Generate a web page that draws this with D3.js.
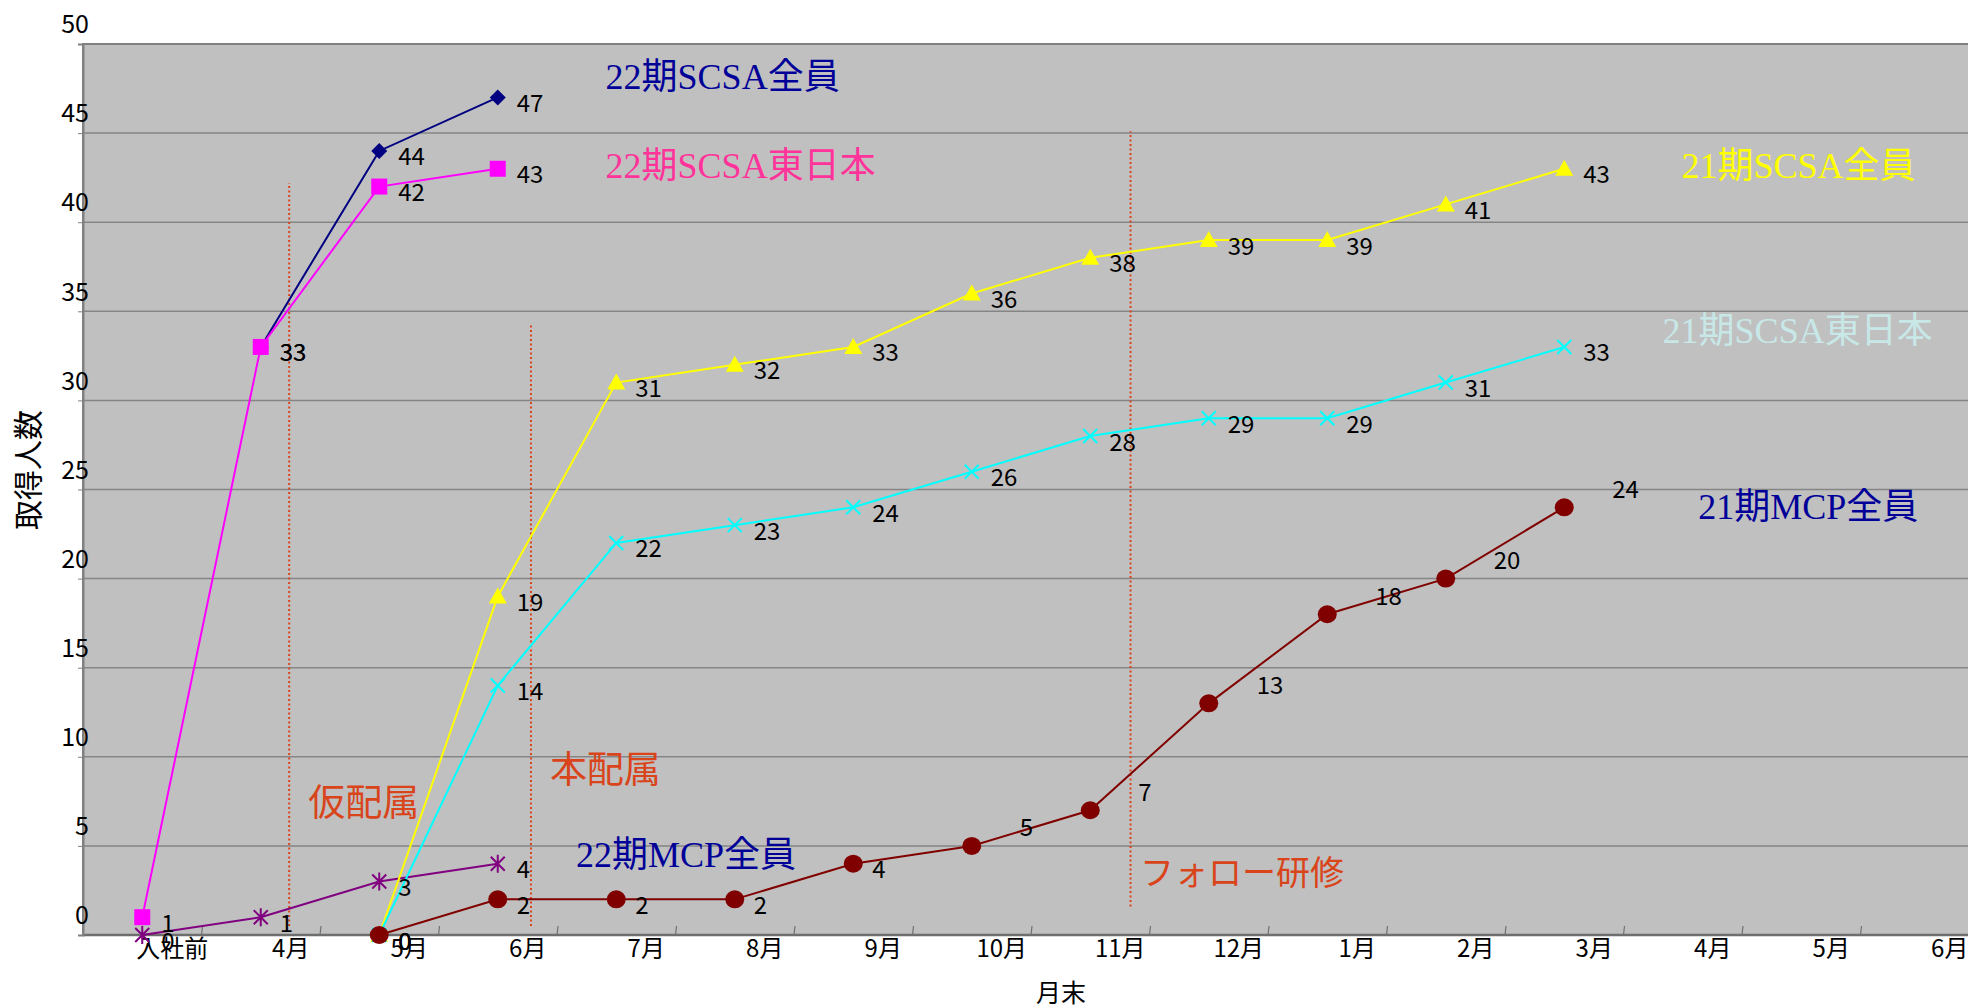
<!DOCTYPE html>
<html><head><meta charset="utf-8">
<script src="https://cdn.jsdelivr.net/npm/d3@7"></script>
<style>
html,body{margin:0;padding:0;background:#fff;}
svg{display:block;}
</style></head>
<body>
<svg id="chart" width="1968" height="1008"></svg>
<script>
// ---- data ----
const categories = ["入社前","4月","5月","6月","7月","8月","9月","10月","11月","12月","1月","2月","3月","4月","5月","6月"];
const yTicks = [0,5,10,15,20,25,30,35,40,45,50];
const seriesNames = ["22期SCSA全員","22期SCSA東日本","22期MCP全員","21期SCSA全員","21期SCSA東日本","21期MCP全員"];
const s22ScsaAll  = [null,33,44,47];
const s22ScsaEast = [1,33,42,43];
const s22McpAll   = [0,1,3,4];
const s21ScsaAll  = [null,null,0,19,31,32,33,36,38,39,39,41,43];
const s21ScsaEast = [null,null,0,14,22,23,24,26,28,29,29,31,33];
const s21McpAll   = [null,null,0,2,2,2,4,5,7,13,18,20,24];
const phaseLabels = ["仮配属","本配属","フォロー研修"];

// ---- layout ----
const W = 1968, H = 1008;
const plot = {left: 83, right: 1979, top: 44, bottom: 935};
const svg = d3.select("#chart");
const x = d3.scaleBand().domain(d3.range(categories.length)).range([plot.left, plot.right]).padding(0);
const xf = d3.scaleLinear().domain([0, categories.length]).range([plot.left, plot.right]); // fractional category position
const y = d3.scaleLinear().domain([0, 50]).range([plot.bottom, plot.top]);
const cx = i => x(i) + x.bandwidth() / 2;
const numFont = "'Noto Sans CJK JP','Noto Sans',sans-serif";
const serifFont = "'Liberation Serif','Noto Sans CJK JP',serif";

// plot background
svg.append("rect").attr("x",plot.left).attr("y",plot.top)
  .attr("width",plot.right-plot.left).attr("height",plot.bottom-plot.top)
  .attr("fill","#c0c0c0").attr("stroke","#808080").attr("stroke-width",2);

// gridlines
svg.append("g").selectAll("line").data(yTicks.filter(v=>v>0 && v<50)).join("line")
  .attr("x1",plot.left).attr("x2",plot.right)
  .attr("y1",d=>y(d)).attr("y2",d=>y(d))
  .attr("stroke","#858585").attr("stroke-width",1.5);

// x boundary ticks
svg.append("g").selectAll("line").data(d3.range(1, categories.length)).join("line")
  .attr("x1",d=>xf(d)).attr("x2",d=>xf(d)+1)
  .attr("y1",plot.bottom).attr("y2",plot.bottom-9)
  .attr("stroke","#707070").attr("stroke-width",1.2);

// bottom axis line
svg.append("line").attr("x1",plot.left).attr("x2",plot.right)
  .attr("y1",plot.bottom).attr("y2",plot.bottom)
  .attr("stroke","#6e6e6e").attr("stroke-width",2.5);

// y axis
const yAxis = svg.append("g").attr("transform",`translate(${plot.left},0)`)
  .call(d3.axisLeft(y).tickValues(yTicks).tickSize(5).tickPadding(0));
yAxis.attr("font-size",null).attr("font-family",null);
yAxis.select(".domain").attr("stroke","#808080").attr("stroke-width",2);
yAxis.selectAll(".tick line").attr("stroke","#808080");
yAxis.selectAll(".tick text").attr("x",6).attr("dy","-0.45em")
  .attr("text-anchor","end").attr("fill","#000")
  .style("font-family",numFont).style("font-size","25px");

// x axis labels
const xAxis = svg.append("g").attr("transform",`translate(0,${plot.bottom})`)
  .call(d3.axisBottom(x).tickFormat(i=>categories[i]).tickSize(0).tickPadding(0));
xAxis.attr("font-size",null).attr("font-family",null);
xAxis.select(".domain").remove();
xAxis.selectAll(".tick text").attr("dx",30).attr("y",0).attr("dy","0.9em").attr("fill","#000")
  .style("font-family",numFont).style("font-size","24px");

// axis titles
svg.append("text").attr("x",1061).attr("y",991).attr("text-anchor","middle")
  .attr("dominant-baseline","central").style("font-family",numFont).style("font-size","25px").text("月末");
svg.append("text").attr("transform","translate(26,470) rotate(-90)").attr("text-anchor","middle")
  .attr("dominant-baseline","central").style("font-family",numFont).style("font-size","30px").text("取得人数");

// phase dividers (dotted) and labels
const dividers = [
  {pos: 1.74, from: 0.5, to: 42.2},
  {pos: 3.78, from: 0.5, to: 34.2},
  {pos: 8.84, from: 1.6, to: 45.1}
];
const orange = "#d9441a";
svg.append("g").selectAll("line").data(dividers).join("line")
  .attr("x1",d=>xf(d.pos)).attr("x2",d=>xf(d.pos))
  .attr("y1",d=>y(d.from)).attr("y2",d=>y(d.to))
  .attr("stroke",orange).attr("stroke-width",2).attr("stroke-dasharray","2,2.5");
const phasePos = [{pos:1.90, v:7.6, size:37},{pos:3.94, v:9.45, size:37},{pos:8.92, v:3.6, size:34}];
svg.append("g").selectAll("text").data(phaseLabels).join("text")
  .attr("x",(d,i)=>xf(phasePos[i].pos)).attr("y",(d,i)=>y(phasePos[i].v))
  .attr("dominant-baseline","central").style("font-family",numFont)
  .style("font-size",(d,i)=>phasePos[i].size+"px")
  .attr("fill",orange).text(d=>d);

// series
function marker(type, color){
  return g => {
    if(type==="diamond"){
      g.append("path").attr("d","M0,-8L8,0L0,8L-8,0Z").attr("fill",color);
    } else if(type==="square"){
      g.append("rect").attr("x",-8).attr("y",-8).attr("width",16).attr("height",16).attr("fill",color);
    } else if(type==="triangle"){
      g.append("path").attr("d","M0,-9L9,7L-9,7Z").attr("fill",color);
    } else if(type==="x"){
      g.append("path").attr("d","M-7,-7L7,7M-7,7L7,-7").attr("stroke",color).attr("stroke-width",2);
    } else if(type==="star"){
      g.append("path").attr("d","M-7,-7L7,7M-7,7L7,-7M0,-9L0,9").attr("stroke",color).attr("stroke-width",2);
    } else if(type==="circle"){
      g.append("ellipse").attr("rx",9.5).attr("ry",9).attr("fill",color);
    }
  };
}
const series = [
  {name: seriesNames[0], values: s22ScsaAll,  color:"#000080", mark:"diamond"},
  {name: seriesNames[1], values: s22ScsaEast, color:"#ff00ff", mark:"square"},
  {name: seriesNames[2], values: s22McpAll,   color:"#800080", mark:"star"},
  {name: seriesNames[3], values: s21ScsaAll,  color:"#ffff00", mark:"triangle"},
  {name: seriesNames[4], values: s21ScsaEast, color:"#00ffff", mark:"x"},
  {name: seriesNames[5], values: s21McpAll,   color:"#800000", mark:"circle", shiftFrom: 7}
];
const line = d3.line().defined(d=>d.v!=null).x(d=>cx(d.i)).y(d=>y(d.v));
const labelLayer = [];
series.forEach(s=>{
  const pts = s.values.map((v,i)=>({i, v}));
  const g = svg.append("g");
  g.append("path").datum(pts).attr("d",line).attr("fill","none")
    .attr("stroke",s.color).attr("stroke-width",2);
  pts.filter(p=>p.v!=null).forEach(p=>{
    const m = g.append("g").attr("transform",`translate(${cx(p.i)},${y(p.v)})`);
    marker(s.mark, s.color)(m);
    const shifted = s.shiftFrom!=null && p.i>=s.shiftFrom;
    labelLayer.push({x: cx(p.i) + (shifted?48:19), y: y(p.v) + (shifted?-20:4), t: p.v});
  });
});
svg.append("g").selectAll("text").data(labelLayer).join("text")
  .attr("x",d=>d.x).attr("y",d=>d.y).attr("dominant-baseline","central")
  .style("font-family",numFont).style("font-size","24px").attr("fill","#000").text(d=>d.t);

// series name labels
const nameColors = ["#000099","#ff3399","#000099","#ffff00","#c8e8e8","#000099"];
const namePos = [{pos:4.41,v:48.15},{pos:4.41,v:43.15},{pos:4.16,v:4.5},{pos:13.49,v:43.15},{pos:13.33,v:33.9},{pos:13.63,v:24.0}];
svg.append("g").selectAll("text").data(seriesNames).join("text")
  .attr("x",(d,i)=>xf(namePos[i].pos)).attr("y",(d,i)=>y(namePos[i].v))
  .attr("dominant-baseline","central").style("font-family",serifFont).style("font-size","36px")
  .attr("fill",(d,i)=>nameColors[i]).text(d=>d);
</script>
</body></html>
